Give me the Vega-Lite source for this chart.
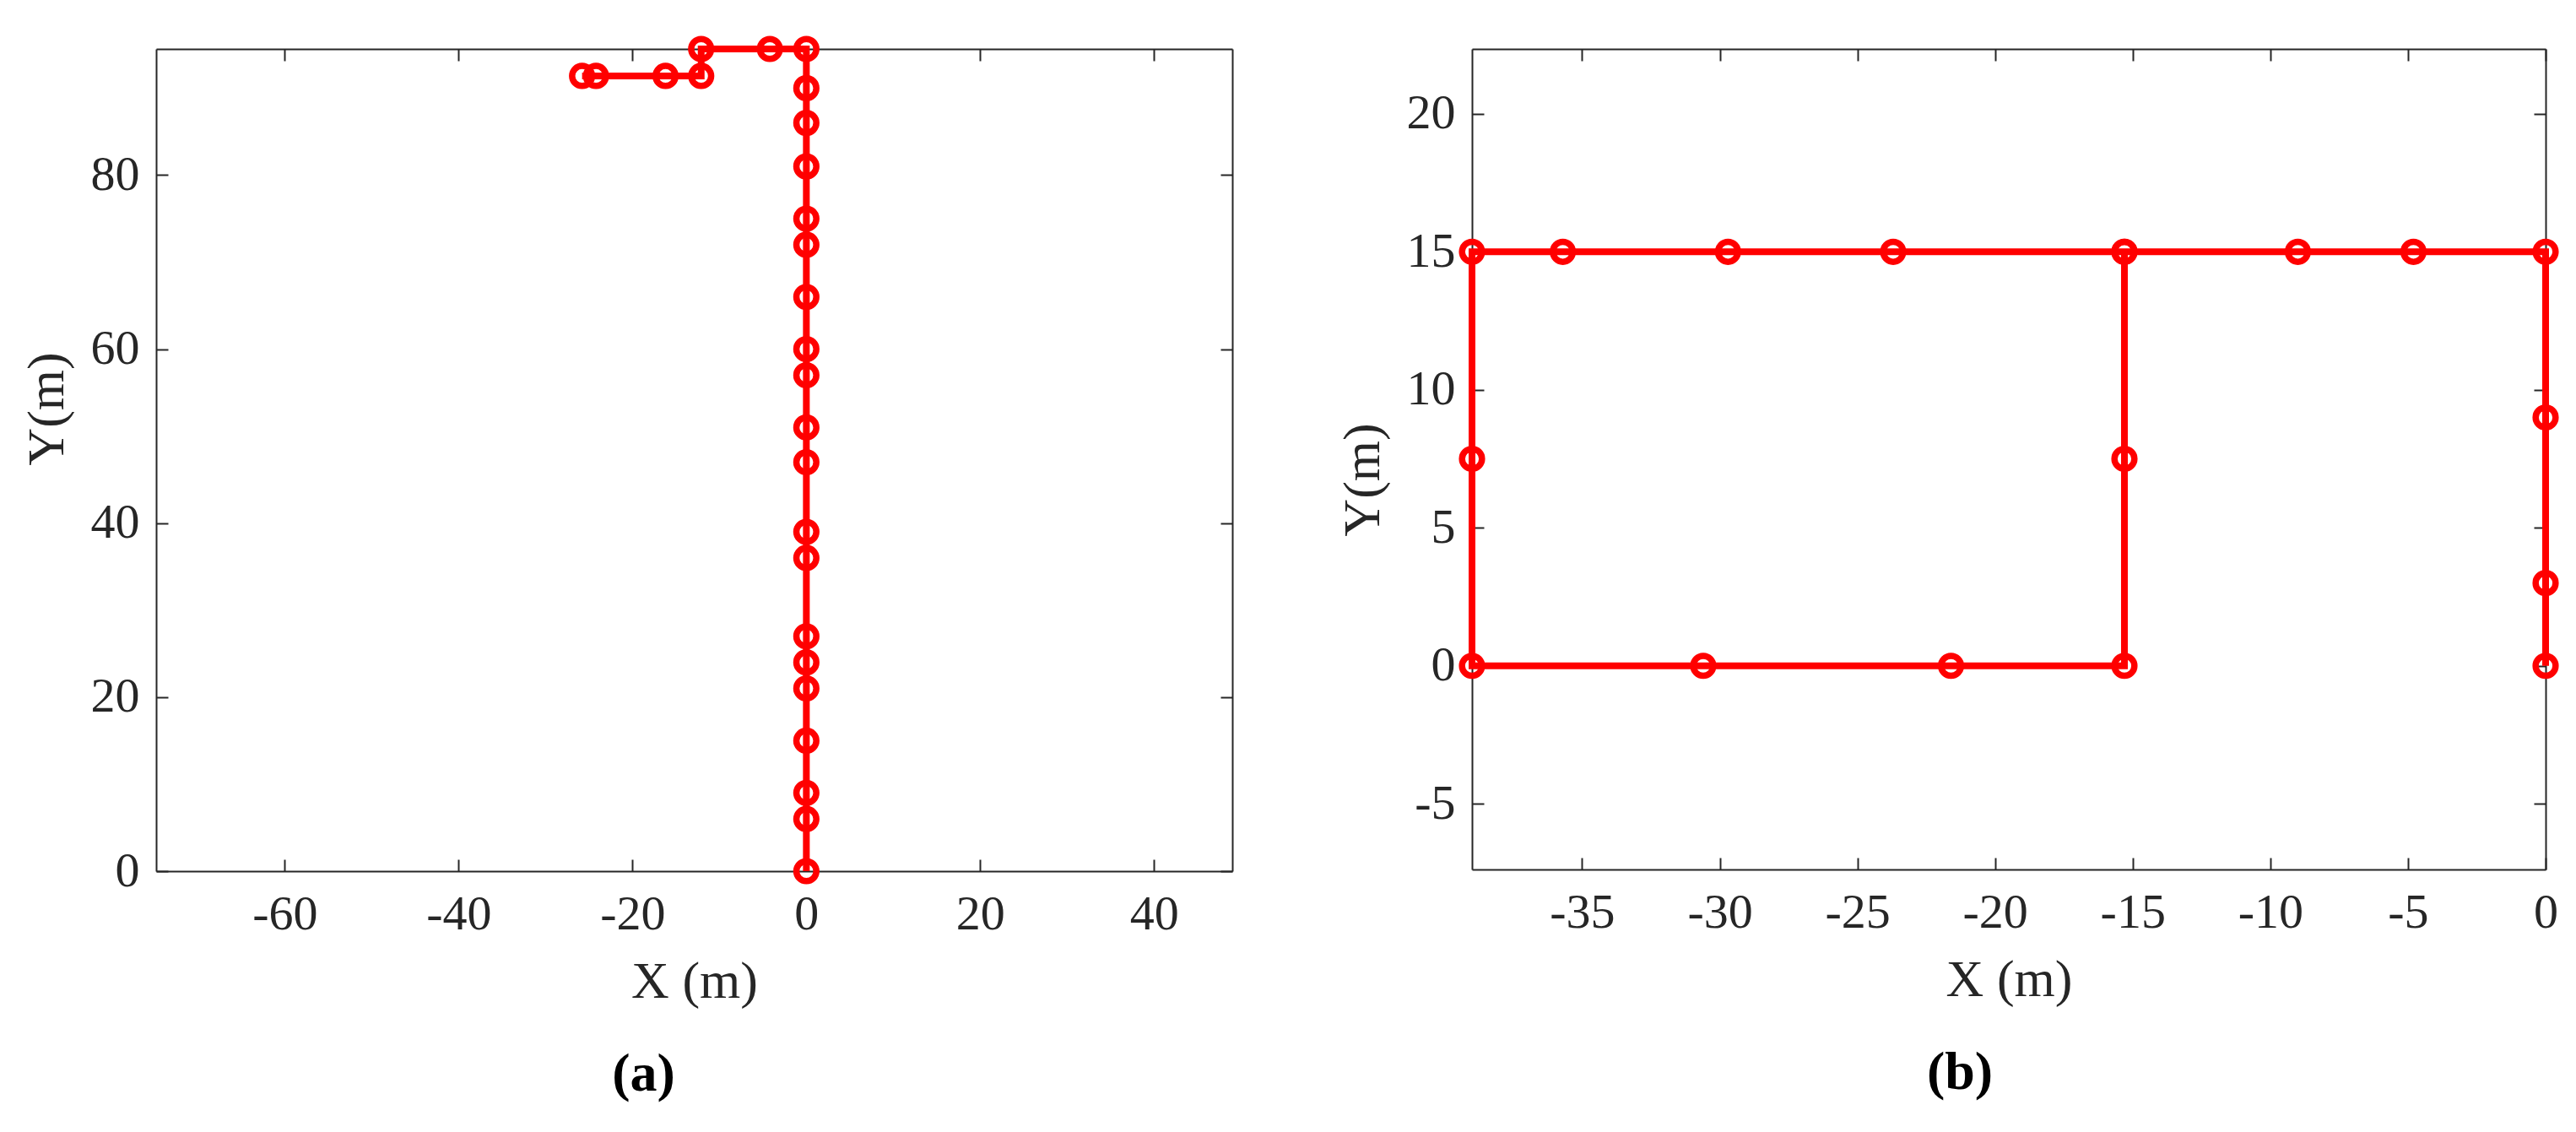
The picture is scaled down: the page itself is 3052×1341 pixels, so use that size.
{
  "$schema": "https://vega.github.io/schema/vega-lite/v6.json",
  "background": "white",
  "padding": {"left": 24, "top": 31, "right": 15, "bottom": 20},
  "datasets": {
    "a": [
      {"order": 0, "x": 0, "y": 0},
      {"order": 1, "x": 0, "y": 6},
      {"order": 2, "x": 0, "y": 9},
      {"order": 3, "x": 0, "y": 15},
      {"order": 4, "x": 0, "y": 21},
      {"order": 5, "x": 0, "y": 24},
      {"order": 6, "x": 0, "y": 27},
      {"order": 7, "x": 0, "y": 36},
      {"order": 8, "x": 0, "y": 39},
      {"order": 9, "x": 0, "y": 47},
      {"order": 10, "x": 0, "y": 51},
      {"order": 11, "x": 0, "y": 57},
      {"order": 12, "x": 0, "y": 60},
      {"order": 13, "x": 0, "y": 66},
      {"order": 14, "x": 0, "y": 72},
      {"order": 15, "x": 0, "y": 75},
      {"order": 16, "x": 0, "y": 81},
      {"order": 17, "x": 0, "y": 86},
      {"order": 18, "x": 0, "y": 90},
      {"order": 19, "x": 0, "y": 94.5},
      {"order": 20, "x": -4.2, "y": 94.5},
      {"order": 21, "x": -12.1, "y": 94.5},
      {"order": 22, "x": -12.1, "y": 91.4},
      {"order": 23, "x": -16.2, "y": 91.4},
      {"order": 24, "x": -24.2, "y": 91.4},
      {"order": 25, "x": -25.8, "y": 91.4}
    ],
    "b": [
      {"order": 0, "x": 0, "y": 0},
      {"order": 1, "x": 0, "y": 3},
      {"order": 2, "x": 0, "y": 9},
      {"order": 3, "x": 0, "y": 15},
      {"order": 4, "x": -4.8, "y": 15},
      {"order": 5, "x": -9, "y": 15},
      {"order": 6, "x": -15.3, "y": 15},
      {"order": 7, "x": -23.7, "y": 15},
      {"order": 8, "x": -29.7, "y": 15},
      {"order": 9, "x": -35.7, "y": 15},
      {"order": 10, "x": -39, "y": 15},
      {"order": 11, "x": -39, "y": 7.5},
      {"order": 12, "x": -39, "y": 0},
      {"order": 13, "x": -30.6, "y": 0},
      {"order": 14, "x": -21.6, "y": 0},
      {"order": 15, "x": -15.3, "y": 0},
      {"order": 16, "x": -15.3, "y": 7.5},
      {"order": 17, "x": -15.3, "y": 15}
    ]
  },
  "config": {
    "view": {"stroke": null},
    "concat": {"spacing": 122},
    "axis": {
      "grid": false,
      "labelFont": "Liberation Serif",
      "labelFontSize": 58,
      "labelColor": "#262626",
      "titleFont": "Liberation Serif",
      "titleFontSize": 62,
      "titleFontWeight": "normal",
      "titleColor": "#262626",
      "tickColor": "#262626",
      "domainColor": "#262626",
      "tickWidth": 2,
      "domainWidth": 2,
      "tickSize": -14,
      "labelFlush": false,
      "labelOverlap": false,
      "labelExpr": "'' + datum.value"
    }
  },
  "hconcat": [
    {
      "width": 1275,
      "height": 974,
      "data": {"name": "a"},
      "title": {"text": "(a)", "orient": "bottom", "dx": -60, "offset": 48, "fontSize": 64, "font": "Liberation Serif", "fontWeight": "bold", "color": "#000000"},
      "resolve": {"axis": {"x": "independent", "y": "independent"}},
      "layer": [
        {
          "mark": {"type": "line", "color": "#ff0000", "strokeWidth": 8},
          "encoding": {
            "x": {"field": "x", "type": "quantitative", "scale": {"domain": [-74.8, 49], "nice": false, "zero": false},
                  "axis": {"orient": "bottom", "title": "X (m)", "values": [-60, -40, -20, 0, 20, 40], "labelPadding": 36, "titlePadding": 20}},
            "y": {"field": "y", "type": "quantitative", "scale": {"domain": [0, 94.5], "nice": false, "zero": false},
                  "axis": {"orient": "left", "title": "Y(m)", "values": [0, 20, 40, 60, 80], "labelPadding": 34, "titlePadding": 20, "titleY": 426}},
            "order": {"field": "order", "type": "quantitative"}
          }
        },
        {
          "mark": {"type": "point", "shape": "circle", "filled": false, "color": "#ff0000", "strokeWidth": 7.5, "size": 560, "opacity": 1},
          "encoding": {
            "x": {"field": "x", "type": "quantitative", "scale": {"domain": [-74.8, 49], "nice": false, "zero": false},
                  "axis": {"orient": "top", "title": null, "labels": false, "values": [-60, -40, -20, 0, 20, 40]}},
            "y": {"field": "y", "type": "quantitative", "scale": {"domain": [0, 94.5], "nice": false, "zero": false},
                  "axis": {"orient": "right", "title": null, "labels": false, "values": [0, 20, 40, 60, 80]}}
          }
        }
      ]
    },
    {
      "width": 1272,
      "height": 972,
      "data": {"name": "b"},
      "title": {"text": "(b)", "orient": "bottom", "dx": -58, "offset": 48, "fontSize": 64, "font": "Liberation Serif", "fontWeight": "bold", "color": "#000000"},
      "resolve": {"axis": {"x": "independent", "y": "independent"}},
      "layer": [
        {
          "mark": {"type": "line", "color": "#ff0000", "strokeWidth": 8},
          "encoding": {
            "x": {"field": "x", "type": "quantitative", "scale": {"domain": [-39, 0], "nice": false, "zero": false},
                  "axis": {"orient": "bottom", "title": "X (m)", "values": [-35, -30, -25, -20, -15, -10, -5, 0], "labelPadding": 36, "titlePadding": 20}},
            "y": {"field": "y", "type": "quantitative", "scale": {"domain": [-7.38, 22.35], "nice": false, "zero": false},
                  "axis": {"orient": "left", "title": "Y(m)", "values": [-5, 0, 5, 10, 15, 20], "labelPadding": 34, "titlePadding": 20, "titleY": 510}},
            "order": {"field": "order", "type": "quantitative"}
          }
        },
        {
          "mark": {"type": "point", "shape": "circle", "filled": false, "color": "#ff0000", "strokeWidth": 7.5, "size": 560, "opacity": 1},
          "encoding": {
            "x": {"field": "x", "type": "quantitative", "scale": {"domain": [-39, 0], "nice": false, "zero": false},
                  "axis": {"orient": "top", "title": null, "labels": false, "values": [-35, -30, -25, -20, -15, -10, -5, 0]}},
            "y": {"field": "y", "type": "quantitative", "scale": {"domain": [-7.38, 22.35], "nice": false, "zero": false},
                  "axis": {"orient": "right", "title": null, "labels": false, "values": [-5, 0, 5, 10, 15, 20]}}
          }
        }
      ]
    }
  ]
}
